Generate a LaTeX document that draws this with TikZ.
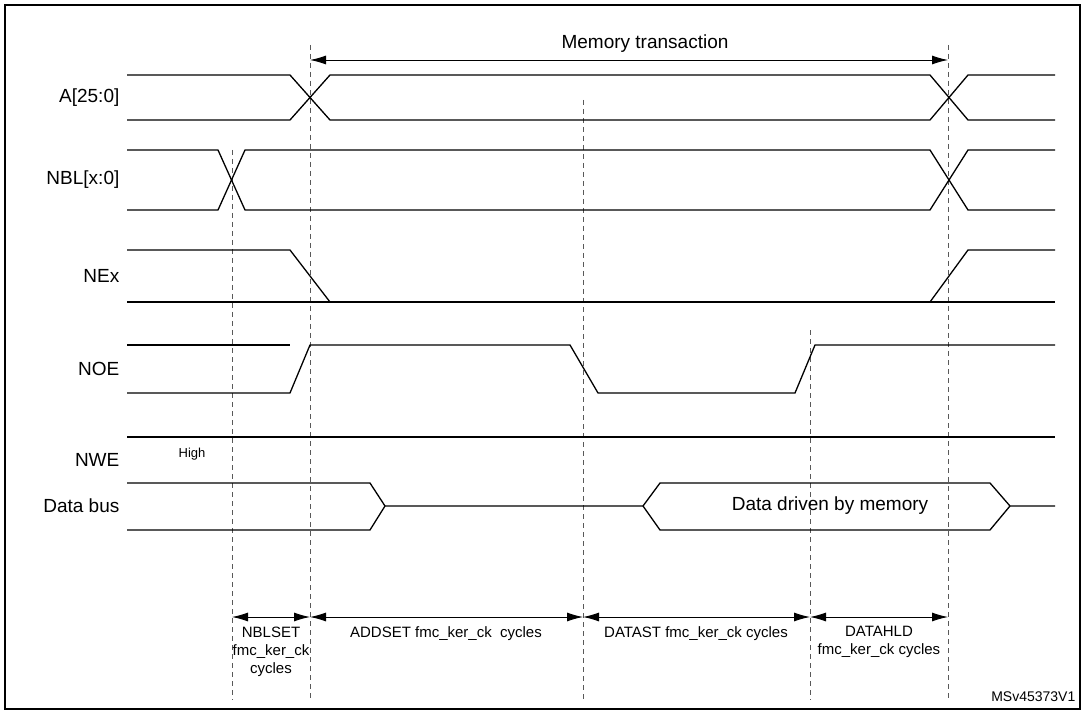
\documentclass[tikz,border=0pt]{standalone}
\usepackage{fontspec}
\setmainfont{Liberation Sans}
\usetikzlibrary{arrows.meta}
\tikzset{every picture/.style={line width=1.3pt},
  sig/.style={line width=1.3pt},
  guide/.style={line width=0.9pt,gray!70!black,dash pattern={on 5pt off 4pt}},
  span/.style={line width=0.9pt,{Latex[length=16pt,width=9pt]}-{Latex[length=16pt,width=9pt]}},
  lbl/.style={anchor=east,inner sep=0pt,font=\fontsize{19}{22}\selectfont},
  note/.style={inner sep=0pt,align=center,font=\fontsize{15}{18}\selectfont}}
\begin{document}
\begin{tikzpicture}[x=1pt,y=1pt,yscale=-1,xscale=1]
\useasboundingbox (0,0) rectangle (1085,714);
%Frame
\draw [line width=1.6pt] (5,5) rectangle (1080,709);

%Guides
\draw [guide] (232,150) -- (232,700);
\draw [guide] (310,45) -- (310,700);
\draw [guide] (583,100) -- (583,700);
\draw [guide] (810,330) -- (810,700);
\draw [guide] (948,45) -- (948,700);
\coordinate (tA) at (310,60);
\coordinate (tB) at (948,60);
\coordinate (g1) at (232,617);
\coordinate (g2) at (310,617);
\coordinate (g3) at (583,617);
\coordinate (g4) at (810,617);
\coordinate (g5) at (948,617);

%A[25:0]
\draw [sig] (127,75) -- (290,75) -- (330,120) -- (930,120) -- (968,75) -- (1055,75);
\draw [sig] (127,120) -- (290,120) -- (330,75) -- (930,75) -- (968,120) -- (1055,120);
%NBL[x:0]
\draw [sig] (127,150) -- (218,150) -- (245,210) -- (930,210) -- (968,150) -- (1055,150);
\draw [sig] (127,210) -- (218,210) -- (245,150) -- (930,150) -- (968,210) -- (1055,210);
%NEx
\draw [sig] (127,250) -- (290,250) -- (330,302);
\draw [sig] (127,302) -- (1055,302);
\draw [sig] (930,302) -- (968,250) -- (1055,250);
%NOE
\draw [sig] (127,345) -- (290,345);
\draw [sig] (127,393) -- (290,393) -- (310,345) -- (570,345) -- (598,393) -- (795,393) -- (815,345) -- (1055,345);
%NWE
\draw [sig] (127,437) -- (1055,437);
%Data bus
\draw [sig] (127,483) -- (370,483) -- (385,506) -- (643,506);
\draw [sig] (127,530) -- (370,530) -- (385,506);
\draw [sig] (643,506) -- (660,483) -- (990,483) -- (1010,506) -- (1055,506);
\draw [sig] (643,506) -- (660,530) -- (990,530) -- (1010,506);

%Spans
\draw [span] (tA) -- (tB);
\draw [span] (g1) -- (g2);
\draw [span] (g2) -- (g3);
\draw [span] (g3) -- (g4);
\draw [span] (g4) -- (g5);

% Text Node
\node [lbl] (lA) at (120,98) {A[25:0]};
\node [lbl] (lNBL) at (120,180) {NBL[x:0]};
\node [lbl] (lNEx) at (120,276) {NEx};
\node [lbl] (lNOE) at (120,369) {NOE};
\node [lbl] (lNWE) at (120,460) {NWE};
\node [lbl] (lData) at (120,506) {Data bus};
\node [note,font=\fontsize{13}{15}\selectfont] (high) at (192,454) {High};
\node [note,font=\fontsize{19}{22}\selectfont] (mem) at (645,44) {Memory transaction};
\node [note,font=\fontsize{19}{22}\selectfont] (drv) at (830,506) {Data driven by memory};
\node [note,anchor=north] (nblset) at (271,626) {NBLSET\\fmc\_ker\_ck\\cycles};
\node [note,anchor=north] (addset) at (446,626) {ADDSET fmc\_ker\_ck\ \ cycles};
\node [note,anchor=north] (datast) at (696,626) {DATAST fmc\_ker\_ck cycles};
\node [note,anchor=north] (datahld) at (879,626) {DATAHLD\\fmc\_ker\_ck cycles};
\node [note,anchor=south east,font=\fontsize{14}{16}\selectfont] (ref) at (1076,702) {MSv45373V1};

\end{tikzpicture}
\end{document}
